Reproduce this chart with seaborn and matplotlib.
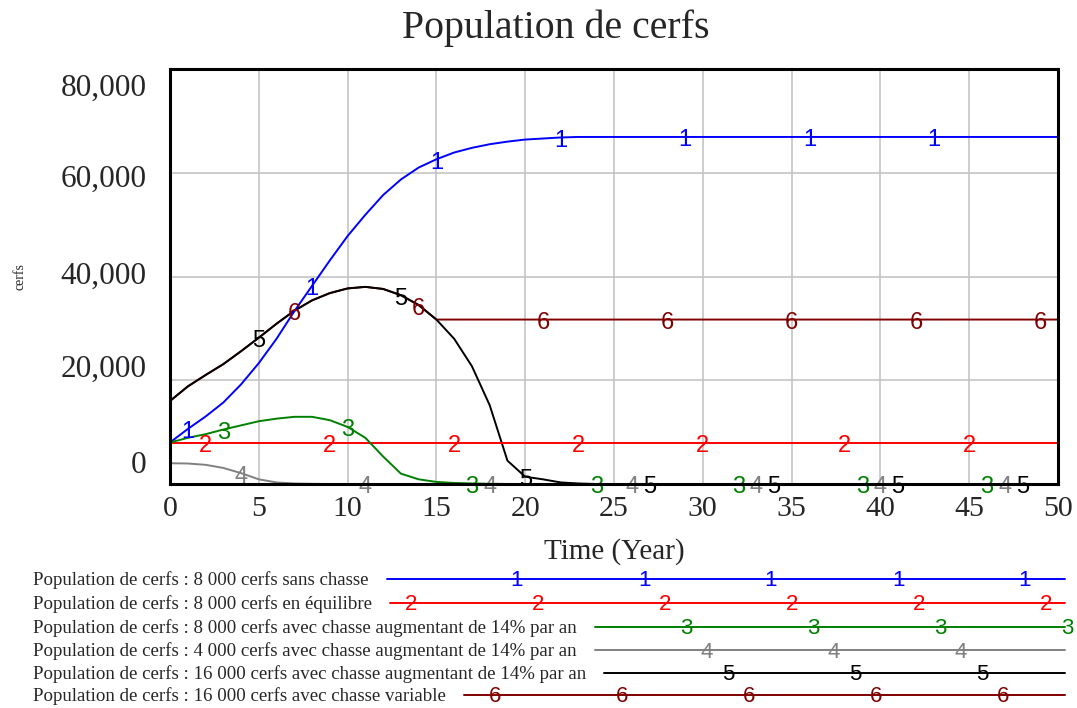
import matplotlib
matplotlib.use("Agg")
import matplotlib.pyplot as plt
import numpy as np
import pandas as pd
import seaborn as sns

# years 0..50, one value per year
years = list(range(0, 51))

sans_chasse = [8000, 10600, 13000, 15700, 19200, 23300, 28000, 33300, 38200, 43100,
               47800, 51900, 55700, 58700, 61000, 62600, 63900, 64800, 65500, 66000,
               66400, 66600, 66800, 66900, 66900, 66900, 66900, 66900, 66900, 66900,
               66900, 66900, 66900, 66900, 66900, 66900, 66900, 66900, 66900, 66900,
               66900, 66900, 66900, 66900, 66900, 66900, 66900, 66900, 66900, 66900,
               66900]

equilibre = [8000, 8000, 8000, 8000, 8000, 8000, 8000, 8000, 8000, 8000,
             8000, 8000, 8000, 8000, 8000, 8000, 8000, 8000, 8000, 8000,
             8000, 8000, 8000, 8000, 8000, 8000, 8000, 8000, 8000, 8000,
             8000, 8000, 8000, 8000, 8000, 8000, 8000, 8000, 8000, 8000,
             8000, 8000, 8000, 8000, 8000, 8000, 8000, 8000, 8000, 8000,
             8000]

chasse_8000 = [8000, 8900, 9600, 10500, 11300, 12100, 12600, 12950, 12950, 12300,
               11000, 8900, 5300, 2000, 900, 400, 200, 100, 50, 0,
               0, 0, 0, 0, 0, 0, 0, 0, 0, 0,
               0, 0, 0, 0, 0, 0, 0, 0, 0, 0,
               0, 0, 0, 0, 0, 0, 0, 0, 0, 0,
               0]

chasse_4000 = [4000, 3950, 3700, 3100, 2100, 900, 300, 100, 30, 0,
               0, 0, 0, 0, 0, 0, 0, 0, 0, 0,
               0, 0, 0, 0, 0, 0, 0, 0, 0, 0,
               0, 0, 0, 0, 0, 0, 0, 0, 0, 0,
               0, 0, 0, 0, 0, 0, 0, 0, 0, 0,
               0]

chasse_16000 = [16000, 18800, 21000, 23100, 25600, 28200, 30900, 33400, 35400, 36800,
                37700, 38000, 37600, 36400, 34500, 31700, 28000, 22700, 15200, 4500,
                1400, 900, 300, 100, 0, 0, 0, 0, 0, 0,
                0, 0, 0, 0, 0, 0, 0, 0, 0, 0,
                0, 0, 0, 0, 0, 0, 0, 0, 0, 0,
                0]

chasse_variable = [16000, 18800, 21000, 23100, 25600, 28200, 30900, 33400, 35400, 36800,
                   37700, 38000, 37600, 36400, 34500, 31700, 31700, 31700, 31700, 31700,
                   31700, 31700, 31700, 31700, 31700, 31700, 31700, 31700, 31700, 31700,
                   31700, 31700, 31700, 31700, 31700, 31700, 31700, 31700, 31700, 31700,
                   31700, 31700, 31700, 31700, 31700, 31700, 31700, 31700, 31700, 31700,
                   31700]

series = [sans_chasse, equilibre, chasse_8000, chasse_4000, chasse_16000, chasse_variable]

series_labels = [
    "Population de cerfs : 8 000 cerfs sans chasse",
    "Population de cerfs : 8 000 cerfs en équilibre",
    "Population de cerfs : 8 000 cerfs avec chasse augmentant de 14% par an",
    "Population de cerfs : 4 000 cerfs avec chasse augmentant de 14% par an",
    "Population de cerfs : 16 000 cerfs avec chasse augmentant de 14% par an",
    "Population de cerfs : 16 000 cerfs avec chasse variable",
]
series_colors = ["#0000ff", "#ff0000", "#008000", "#808080", "#000000", "#800000"]

# years where the numbered line markers sit
marker_years = [
    [1, 8, 15, 22, 29, 36, 43],
    [2, 9, 16, 23, 30, 38, 45],
    [3, 10, 17, 24, 32, 39, 46],
    [4, 11, 18, 26, 33, 40, 47],
    [5, 13, 20, 27, 34, 41, 48],
    [7, 14, 21, 28, 35, 42, 49],
]

y_ticks = [0, 20000, 40000, 60000, 80000]
y_tick_labels = ["0", "20,000", "40,000", "60,000", "80,000"]
y_label_shift = [13, 7.7, 0, -5, -13.7]  # Vensim nudges its labels inwards
x_ticks = list(range(0, 51, 5))

sns.set_style("white")
plt.rcParams["font.family"] = ["Liberation Serif", "DejaVu Serif"]

fig = plt.figure(figsize=(10.77, 7.08), dpi=100)
ax = fig.add_axes([170 / 1077, 1 - 484 / 708, 888 / 1077, 415 / 708])

draw_order = [5, 4, 3, 1, 0, 2]
for k, i in enumerate(draw_order):
    sns.lineplot(x=years, y=series[i], color=series_colors[i], linewidth=1.4,
                 ax=ax, zorder=3 + k)

for i, ts in enumerate(marker_years):
    for t in ts:
        ax.annotate(str(i + 1), xy=(t, series[i][t]), xytext=(0, -2.5),
                    textcoords="offset points", ha="center", va="center",
                    color=series_colors[i], fontsize=17, family="Liberation Sans",
                    annotation_clip=False, zorder=10)

ax.set_xlim(0, 50)
ax.set_ylim(0, 80000)
ax.set_xticks(x_ticks)
ax.set_yticks(y_ticks)
ax.set_yticklabels([])
ax.grid(True, color="#c0c0c0", linewidth=1.1)
ax.set_axisbelow(True)
ax.tick_params(axis="both", length=0)
ax.tick_params(axis="x", labelsize=21.5, pad=9)
for sp in ax.spines.values():
    sp.set_visible(True)
    sp.set_color("black")
    sp.set_linewidth(2.2)
    sp.set_zorder(20)

for v, lab, dy in zip(y_ticks, y_tick_labels, y_label_shift):
    ax.annotate(lab, xy=(0, v), xycoords=("axes fraction", "data"),
                xytext=(-17, dy), textcoords="offset points",
                ha="right", va="center", fontsize=22.5, annotation_clip=False)

ax.set_xlabel("Time (Year)", fontsize=21, labelpad=11)
fig.text(20 / 1077, 1 - 277 / 708, "cerfs", rotation=90, ha="center", va="center",
         fontsize=10)
fig.text(556 / 1077, 1 - 28 / 708, "Population de cerfs", ha="center", va="center",
         fontsize=28.7)

# legend, drawn by hand in figure pixels like Vensim does
lax = fig.add_axes([0, 0, 1, 1])
lax.set_xlim(0, 1077)
lax.set_ylim(708, 0)
lax.axis("off")
lax.patch.set_visible(False)

row_y = [580, 604, 628, 651, 674, 696]
texts = []
for i, lab in enumerate(series_labels):
    texts.append(lax.text(33, row_y[i], lab, ha="left", va="center", fontsize=13.6))

fig.canvas.draw()
renderer = fig.canvas.get_renderer()
for i, txt in enumerate(texts):
    bb = txt.get_window_extent(renderer)
    x0 = bb.x1 + 18
    y = row_y[i] - 1
    lax.plot([x0, 1065], [y, y], color=series_colors[i], linewidth=1.4)
    for n in range(-4, 5):
        mx = 517 + 21 * i + 127 * n
        if x0 + 12 <= mx <= 1070:
            lax.text(mx, y + 2, str(i + 1), ha="center", va="center",
                     color=series_colors[i], fontsize=16, family="Liberation Sans")

fig.savefig("out.png", dpi=100)
